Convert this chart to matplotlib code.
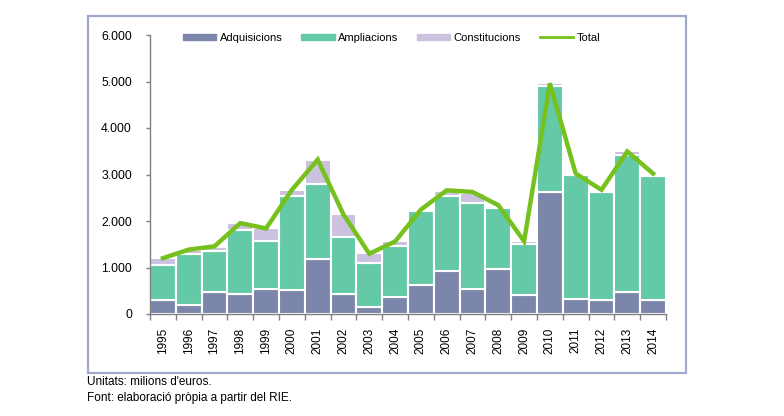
import matplotlib
matplotlib.use("Agg")
import matplotlib.pyplot as plt
from matplotlib.patches import Rectangle
from matplotlib.lines import Line2D
import numpy as np

years = ["1995", "1996", "1997", "1998", "1999", "2000", "2001", "2002", "2003", "2004",
         "2005", "2006", "2007", "2008", "2009", "2010", "2011", "2012", "2013", "2014"]
adquisicions = [300, 195, 480, 435, 540, 515, 1185, 435, 160, 360,
                620, 935, 540, 970, 410, 2620, 330, 310, 480, 310]
ampliacions = [745, 1090, 875, 1380, 1030, 2020, 1615, 1220, 935, 1105,
               1590, 1605, 1845, 1305, 1105, 2290, 2655, 2310, 2930, 2665]
constitucions = [165, 100, 85, 140, 270, 135, 515, 485, 220, 95,
                 35, 110, 220, 50, 50, 50, 35, 50, 85, 45]
total = [1200, 1385, 1455, 1955, 1840, 2670, 3320, 2140, 1295, 1560,
         2245, 2660, 2625, 2340, 1565, 4960, 3020, 2670, 3495, 3020]
yticks = [0, 1000, 2000, 3000, 4000, 5000, 6000]
ytick_labels = ["0", "1.000", "2.000", "3.000", "4.000", "5.000", "6.000"]

c_adq = "#7b86aa"
c_amp = "#64c9a7"
c_con = "#cbc2df"
c_tot = "#76c11d"

plt.rcParams["font.family"] = ["Liberation Sans", "DejaVu Sans"]

fig = plt.figure(figsize=(7.84, 4.16), dpi=100)
ax = fig.add_axes([150/784, 1-314/416, (666-150)/784, (314-35)/416])

x = np.arange(len(years))
adq = np.array(adquisicions)
amp = np.array(ampliacions)
con = np.array(constitucions)
kw = dict(width=1.0, edgecolor="white", linewidth=1.5)
ax.bar(x, adq, color=c_adq, **kw)
ax.bar(x, amp, bottom=adq, color=c_amp, **kw)
ax.bar(x, con, bottom=adq+amp, color=c_con, **kw)
ax.plot(x, total, color=c_tot, lw=3.2, solid_joinstyle="miter", zorder=5)

ax.set_xlim(-0.5, len(years)-0.5)
ax.set_ylim(0, 6000)
ax.set_yticks(yticks)
ax.set_yticklabels(ytick_labels)
ax.set_xticks(x)
ax.set_xticklabels(years, rotation=90)
ax.set_xticks(np.arange(-0.5, len(years)), minor=True)
ax.tick_params(axis="x", which="major", length=0, pad=10, labelsize=8.5)
ax.tick_params(axis="x", which="minor", length=4, color="#808080", width=1)
ax.tick_params(axis="y", length=3, color="#808080", width=1, labelsize=8.8, pad=10)
for s in ["top", "right"]:
    ax.spines[s].set_visible(False)
for s in ["left", "bottom"]:
    ax.spines[s].set_color("#808080")
    ax.spines[s].set_linewidth(1)

handles = [Rectangle((0, 0), 1, 1, color=c_adq), Rectangle((0, 0), 1, 1, color=c_amp),
           Rectangle((0, 0), 1, 1, color=c_con), Line2D([], [], color=c_tot, lw=2)]
leg = ax.legend(handles, ["Adquisicions", "Ampliacions", "Constitucions", "Total"],
                ncol=4, loc="center left", bbox_to_anchor=((183-150)/516, 1-(38-35)/279),
                frameon=False, borderaxespad=0, borderpad=0,
                fontsize=8, handlelength=3.0, handleheight=0.55, handletextpad=0.3,
                columnspacing=1.7)

frame = Rectangle((88/784, 1-373/416), (686-88)/784, (373-16)/416, transform=fig.transFigure,
                  fill=False, edgecolor="#a2a9cf", lw=1.6)
fig.add_artist(frame)

fig.text(87/784, 1-382/416, "Unitats: milions d'euros.", fontsize=8.5, va="center")
fig.text(87/784, 1-398/416, "Font: elaboració pròpia a partir del RIE.", fontsize=8.5, va="center")

fig.savefig("out.png", dpi=100)
